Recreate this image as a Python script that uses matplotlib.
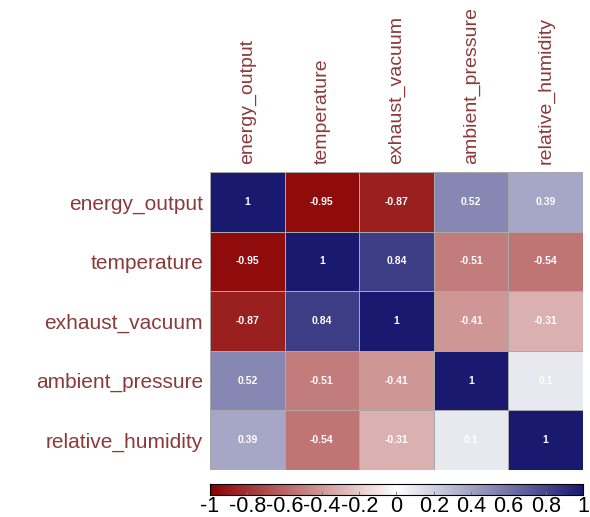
import numpy as np
import matplotlib.pyplot as plt
from matplotlib.colors import LinearSegmentedColormap

plt.rcParams['font.family'] = ['Liberation Sans', 'DejaVu Sans']

variables = ['energy_output', 'temperature', 'exhaust_vacuum',
             'ambient_pressure', 'relative_humidity']

corr = np.array([
    [1.00, -0.95, -0.87, 0.52, 0.39],
    [-0.95, 1.00, 0.84, -0.51, -0.54],
    [-0.87, 0.84, 1.00, -0.41, -0.31],
    [0.52, -0.51, -0.41, 1.00, 0.10],
    [0.39, -0.54, -0.31, 0.10, 1.00],
])

cbar_ticks = [-1, -0.8, -0.6, -0.4, -0.2, 0, 0.2, 0.4, 0.6, 0.8, 1]

label_col = '#8B3A3A'
cmap = LinearSegmentedColormap.from_list(
    'rdwb', ['#8B0000', '#FFFFFF', '#191970'])

fig = plt.figure(figsize=(5.9, 5.17), dpi=100)
ax = fig.add_axes([0.356, 0.091, 0.632, 0.576])

n = len(variables)
ax.pcolormesh(np.arange(n + 1), np.arange(n + 1), corr, cmap=cmap,
              vmin=-1, vmax=1, edgecolors='#a8a8a8', linewidth=0.7)
ax.set_xlim(0, n)
ax.set_ylim(n, 0)

for i in range(n):
    for j in range(n):
        v = corr[i, j]
        txt = '1' if v == 1 else f'{v:g}'
        ax.text(j + 0.5, i + 0.5, txt, ha='center', va='center',
                color='white', fontsize=7.5, fontweight='bold')

ax.set_xticks(np.arange(n) + 0.5)
ax.set_yticks(np.arange(n) + 0.5)
ax.xaxis.tick_top()
ax.set_xticklabels(variables, rotation=90, fontsize=14, color=label_col)
ax.set_yticklabels(variables, fontsize=15, color=label_col)
ax.tick_params(length=0)
ax.tick_params(axis='y', pad=5)
ax.tick_params(axis='x', pad=6)
for s in ax.spines.values():
    s.set_visible(False)

# colour legend strip under the matrix
cax = fig.add_axes([0.356, 0.0426, 0.632, 0.0213])
grad = np.linspace(-1, 1, 256).reshape(1, -1)
cax.imshow(grad, cmap=cmap, aspect='auto', extent=[-1, 1, 0, 1])
cax.set_yticks([])
cax.set_xticks(cbar_ticks)
cax.set_xticklabels([f'{t:g}' for t in cbar_ticks], fontsize=15.5)
cax.tick_params(axis='x', length=3, width=0.6, pad=1, direction='in',
                color='#777777')
for s in cax.spines.values():
    s.set_linewidth(0.8)

fig.savefig('out.png', dpi=100)
